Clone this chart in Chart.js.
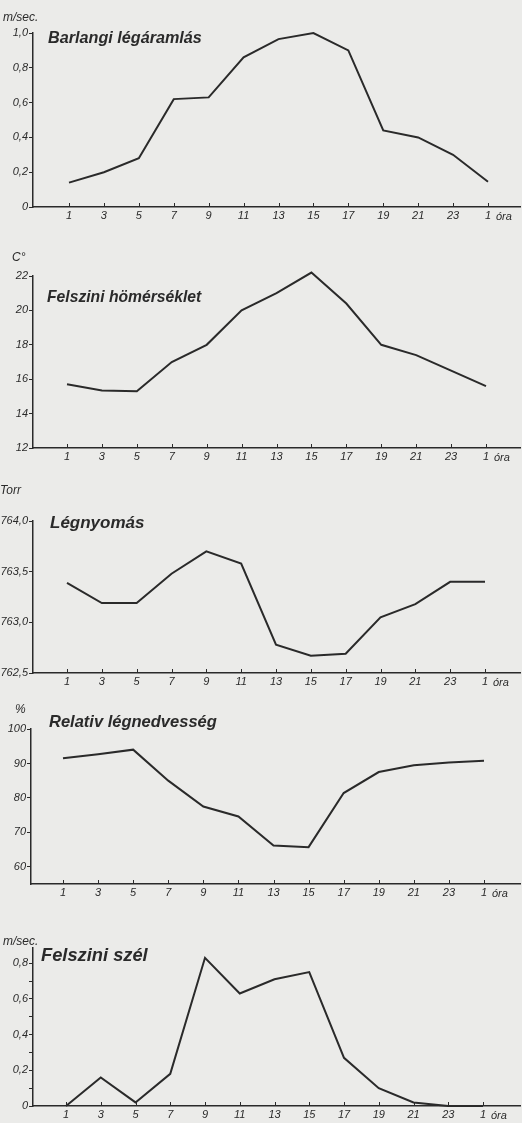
<!DOCTYPE html>
<html>
<head>
<meta charset="utf-8">
<script src="https://cdn.jsdelivr.net/npm/chart.js@4/dist/chart.umd.min.js"></script>
<style>
  html, body { margin: 0; padding: 0; }
  body { width: 522px; height: 1123px; background: #ebebe9; position: relative; overflow: hidden;
         font-family: 'Liberation Sans', sans-serif; color: #2a2a2a; }
  canvas { position: absolute; left: 0; }
  .lbl { position: absolute; white-space: nowrap; font-style: italic; color: #2a2a2a; }
  .title { font-weight: bold; font-size: 17px; }
  .unit { font-size: 12px; }
  .ora { font-size: 11px; }
</style>
</head>
<body>
<script>
// ---- data ----
const hours = ['1', '3', '5', '7', '9', '11', '13', '15', '17', '19', '21', '23', '1'];

const caveAirflow = [0.14, 0.20, 0.28, 0.62, 0.63, 0.86, 0.965, 1.0, 0.90, 0.44, 0.40, 0.30, 0.145];
const surfaceTemp = [15.7, 15.35, 15.3, 17.0, 18.0, 20.0, 21.0, 22.2, 20.4, 18.0, 17.4, 16.5, 15.6];
const airPressure = [763.39, 763.19, 763.19, 763.48, 763.70, 763.58, 762.78, 762.67, 762.69, 763.05, 763.18, 763.40, 763.40];
const humidity = [91.5, 92.7, 94.0, 85.0, 77.5, 74.6, 66.2, 65.7, 81.4, 87.5, 89.5, 90.3, 90.8];
const surfaceWind = [0.0, 0.16, 0.02, 0.18, 0.83, 0.63, 0.71, 0.75, 0.27, 0.10, 0.02, 0.0, 0.0];

const airflowTicks = [0, 0.2, 0.4, 0.6, 0.8, 1.0];
const airflowTickLabels = ['0', '0,2', '0,4', '0,6', '0,8', '1,0'];
const tempTicks = [12, 14, 16, 18, 20, 22];
const tempTickLabels = ['12', '14', '16', '18', '20', '22'];
const pressureTicks = [762.5, 763.0, 763.5, 764.0];
const pressureTickLabels = ['762,5', '763,0', '763,5', '764,0'];
const humidityTicks = [60, 70, 80, 90, 100];
const humidityTickLabels = ['60', '70', '80', '90', '100'];
const windTicks = [0, 0.1, 0.2, 0.3, 0.4, 0.5, 0.6, 0.7, 0.8];
const windTickLabels = ['0', '', '0,2', '', '0,4', '', '0,6', '', '0,8'];

const titles = ['Barlangi légáramlás', 'Felszini hömérséklet', 'Légnyomás', 'Relativ légnedvesség', 'Felszini szél'];
const units = ['m/sec.', 'C°', 'Torr', '%', 'm/sec.'];

// ---- layout (pixel geometry of each panel) ----
const panels = [
  { data: caveAirflow, ticks: airflowTicks, labels: airflowTickLabels, yMin: 0, yMax: 1.0,
    top: 0, height: 232, plotTop: 33, plotBottom: 207, axisX: 33, firstX: 69, lastX: 488,
    title: { x: 48, y: 28, size: 16.2 }, unit: { x: 3, y: 10 } },
  { data: surfaceTemp, ticks: tempTicks, labels: tempTickLabels, yMin: 12, yMax: 22,
    top: 232, height: 238, plotTop: 276, plotBottom: 448, axisX: 33, firstX: 67, lastX: 486,
    title: { x: 47, y: 288, size: 15.7 }, unit: { x: 12, y: 250 } },
  { data: airPressure, ticks: pressureTicks, labels: pressureTickLabels, yMin: 762.5, yMax: 764.0,
    top: 470, height: 225, plotTop: 521, plotBottom: 673, axisX: 33, firstX: 67, lastX: 485,
    title: { x: 50, y: 513, size: 17 }, unit: { x: 0, y: 483 } },
  { data: humidity, ticks: humidityTicks, labels: humidityTickLabels, yMin: 55, yMax: 100,
    top: 695, height: 210, plotTop: 729, plotBottom: 884, axisX: 31, firstX: 63, lastX: 484,
    title: { x: 49, y: 712, size: 16.5 }, unit: { x: 15, y: 702 } },
  { data: surfaceWind, ticks: windTicks, labels: windTickLabels, yMin: 0, yMax: 0.885,
    top: 905, height: 218, plotTop: 948, plotBottom: 1106, axisX: 33, firstX: 66, lastX: 483,
    title: { x: 41, y: 944, size: 18.3 }, unit: { x: 3, y: 934 } }
];

const INK = '#2a2a2a';
const TICK_FONT = { family: "'Liberation Sans', sans-serif", size: 11, style: 'italic' };
const RIGHT_X = 520;
const hourPos = hours.map((_, i) => 1 + 2 * i);

const upTicks = {
  id: 'upTicks',
  afterDraw(chart) {
    const xs = chart.scales.x, ctx = chart.ctx, b = chart.chartArea.bottom;
    ctx.save();
    ctx.strokeStyle = INK; ctx.lineWidth = 1;
    xs.ticks.forEach(t => {
      const px = Math.round(xs.getPixelForValue(t.value)) + 0.5;
      ctx.beginPath(); ctx.moveTo(px, b); ctx.lineTo(px, b - 4); ctx.stroke();
    });
    ctx.restore();
  }
};

panels.forEach((p, k) => {
  const cv = document.createElement('canvas');
  cv.width = 522; cv.height = p.height;
  cv.style.top = p.top + 'px';
  cv.style.width = '522px'; cv.style.height = p.height + 'px';
  document.body.appendChild(cv);

  const ppu = (p.lastX - p.firstX) / 24;
  const xMin = 1 - (p.firstX - p.axisX) / ppu;
  const xMax = 25 + (RIGHT_X - p.lastX) / ppu;

  new Chart(cv, {
    type: 'line',
    data: {
      datasets: [{
        data: p.data.map((v, i) => ({ x: hourPos[i], y: v })),
        borderColor: INK, borderWidth: 2, pointRadius: 0, tension: 0, fill: false, clip: false
      }]
    },
    options: {
      responsive: false, animation: false, devicePixelRatio: 1,
      layout: { padding: { top: p.plotTop - p.top, right: 522 - RIGHT_X, left: 0, bottom: 0 } },
      plugins: { legend: { display: false }, tooltip: { enabled: false }, title: { display: false } },
      scales: {
        x: {
          type: 'linear', min: xMin, max: xMax,
          afterFit: s => { s.height = p.top + p.height - p.plotBottom; },
          afterBuildTicks: s => { s.ticks = hourPos.map(v => ({ value: v })); },
          ticks: { callback: (v, i) => hours[i], color: INK, font: TICK_FONT, padding: 2, maxRotation: 0, autoSkip: false },
          grid: { drawOnChartArea: false, drawTicks: false },
          border: { display: true, color: INK, width: 1.5 }
        },
        y: {
          min: p.yMin, max: p.yMax,
          afterFit: s => { s.width = p.axisX; },
          afterBuildTicks: s => { s.ticks = p.ticks.map(v => ({ value: v })); },
          ticks: { callback: (v, i) => p.labels[i], color: INK, font: TICK_FONT, padding: 1, autoSkip: false },
          grid: { drawOnChartArea: false, drawTicks: true, tickLength: 4, color: INK },
          border: { display: true, color: INK, width: 1.5 }
        }
      }
    },
    plugins: [upTicks]
  });

  const t = document.createElement('div');
  t.className = 'lbl title';
  t.textContent = titles[k];
  t.style.left = p.title.x + 'px'; t.style.top = p.title.y + 'px'; t.style.fontSize = p.title.size + 'px';
  document.body.appendChild(t);

  const u = document.createElement('div');
  u.className = 'lbl unit';
  u.textContent = units[k];
  u.style.left = p.unit.x + 'px'; u.style.top = p.unit.y + 'px';
  document.body.appendChild(u);

  const o = document.createElement('div');
  o.className = 'lbl ora';
  o.textContent = 'óra';
  o.style.left = (p.lastX + 8) + 'px'; o.style.top = (p.plotBottom + 3) + 'px';
  document.body.appendChild(o);
});
</script>
</body>
</html>
